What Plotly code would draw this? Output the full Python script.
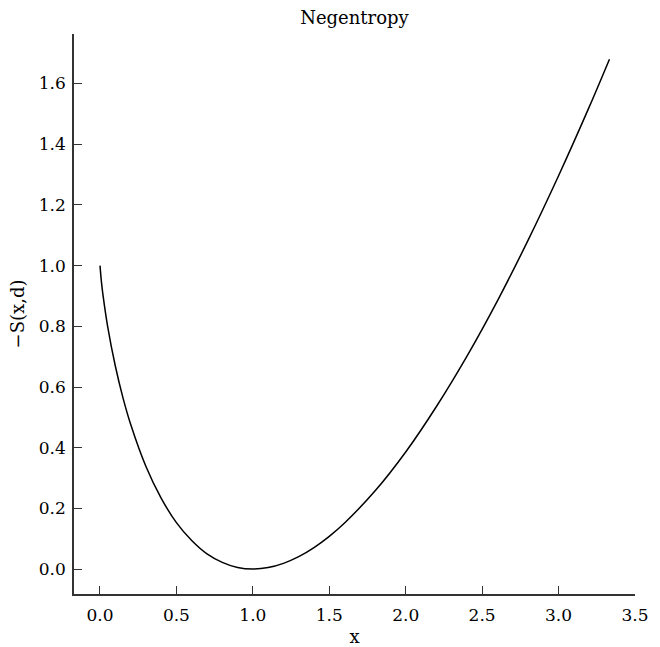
import plotly.graph_objects as go

# Values
x_vals = [0.0, 0.01, 0.02, 0.05, 0.1, 0.15, 0.2, 0.3, 0.4, 0.5, 0.6, 0.7, 0.8, 0.9, 1.0,
          1.1, 1.2, 1.3, 1.4, 1.5, 1.6, 1.8, 2.0, 2.2, 2.4, 2.6, 2.8, 3.0, 3.2, 3.333]
y_vals = [1.0, 0.944, 0.902, 0.800, 0.670, 0.565, 0.478, 0.339, 0.234, 0.153, 0.094, 0.050,
          0.022, 0.005, 0.0, 0.005, 0.019, 0.041, 0.071, 0.108, 0.152, 0.258, 0.386, 0.535,
          0.701, 0.884, 1.083, 1.296, 1.522, 1.680]
x_ticks = [0.0, 0.5, 1.0, 1.5, 2.0, 2.5, 3.0, 3.5]
y_ticks = [0.0, 0.2, 0.4, 0.6, 0.8, 1.0, 1.2, 1.4, 1.6]

FONT = "DejaVu Serif"

fig = go.Figure()
fig.add_trace(go.Scatter(x=x_vals, y=y_vals, mode="lines",
                         line=dict(color="black", width=1.5, shape="spline"),
                         showlegend=False, hoverinfo="skip"))

axis_common = dict(showgrid=False, zeroline=False, showline=True, linecolor="#333",
                   linewidth=1.5, ticks="inside", ticklen=8, tickwidth=1.2,
                   tickcolor="#333", tickfont=dict(family=FONT, size=17, color="black"),
                   mirror=False, automargin=False)

fig.update_layout(
    width=660, height=647,
    margin=dict(l=74, r=25, t=34, b=53),
    paper_bgcolor="white", plot_bgcolor="white",
    title=dict(text="Negentropy", x=0.537, xanchor="center", y=0.972, yanchor="middle",
               font=dict(family=FONT, size=18, color="black")),
    xaxis=dict(range=[-0.17, 3.5], tickvals=x_ticks,
               ticktext=[f"{v:.1f}" for v in x_ticks],
               title=dict(text="x", font=dict(family=FONT, size=18, color="black"), standoff=6),
               ticklabelstandoff=5,
               **axis_common),
    yaxis=dict(range=[-0.082, 1.763], tickvals=y_ticks,
               ticktext=[f"{v:.1f}" for v in y_ticks],
               title=dict(text="\u2212S(x,d)", font=dict(family=FONT, size=18, color="black"), standoff=10),
               ticklabelstandoff=3,
               **axis_common),
)

fig.write_html("out.html")
